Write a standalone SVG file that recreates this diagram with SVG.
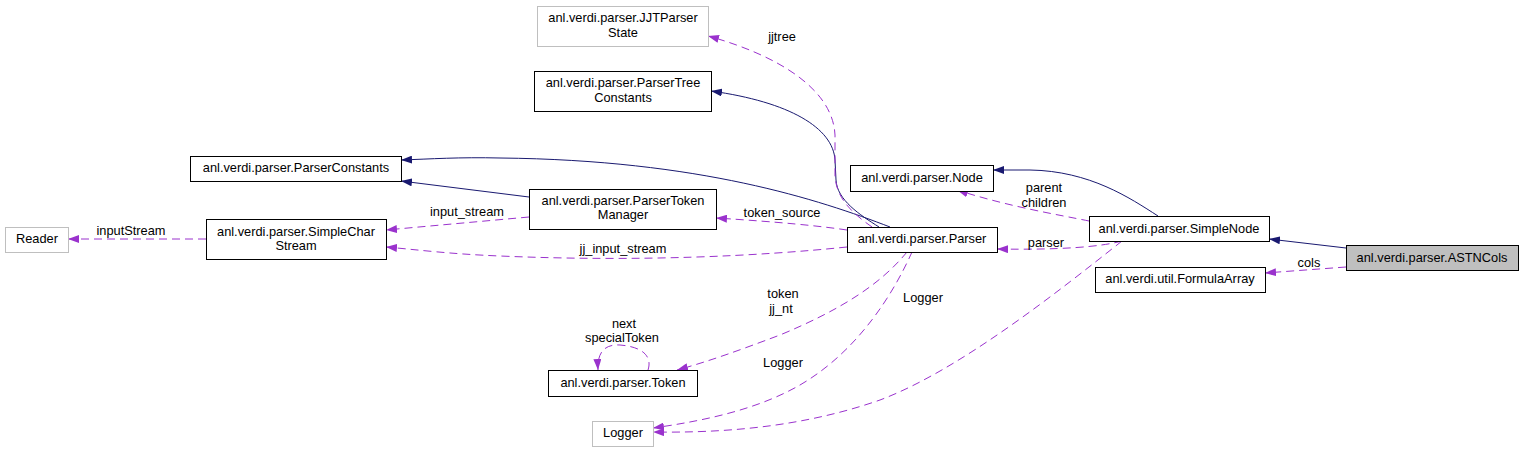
<svg xmlns="http://www.w3.org/2000/svg" width="1529" height="453" viewBox="0 0 1529 453">
<defs>
<style>
text{font-family:"Liberation Sans",Arial,sans-serif;font-size:12.8px;fill:#000;text-anchor:middle}
.n rect{fill:#fff;stroke:#000;stroke-width:1}
.n.g rect{stroke:#bfbfbf}
.n.cur rect{fill:#bfbfbf}
.inh{fill:none;stroke:#191970;stroke-width:1;marker-end:url(#an)}
.use{fill:none;stroke:#9a32cd;stroke-width:1;stroke-dasharray:8,5;marker-end:url(#ap)}
</style>
<marker id="an" viewBox="0 0 11 8" refX="11" refY="4" markerUnits="userSpaceOnUse" markerWidth="11" markerHeight="8" orient="auto"><path d="M0,0 L11,4 L0,8 Z" fill="#191970"/></marker>
<marker id="ap" viewBox="0 0 11 8" refX="11" refY="4" markerUnits="userSpaceOnUse" markerWidth="11" markerHeight="8" orient="auto"><path d="M0,0 L11,4 L0,8 Z" fill="#9a32cd"/></marker>
</defs>
<rect width="1529" height="453" fill="#fff"/>
<g id="edges">
<path class="inh" d="M1346,248 L1269,239"/>
<path class="inh" d="M1158,216 C1130,198 1090,171 1030,170 L993,170"/>
<path class="inh" d="M879,227 C860,215 837,200 836,180 L835,160 C833,128 790,102 711,91"/>
<path class="inh" d="M890,227 C820,200 700,160 500,158 C460,157 430,159 401,160"/>
<path class="inh" d="M529,197 L401,181"/>
<path class="use" d="M1346,267 L1265,273"/>
<path class="use" d="M1089,221 C1060,215 1010,207 957,190"/>
<path class="use" d="M1122,241 C1100,247 1060,250 997,249"/>
<path class="use" d="M1122,241 C1060,290 960,370 880,400 C800,428 720,433 653,432"/>
<path class="use" d="M872,227 C855,215 836,200 835,175 L835,135 C833,90 780,56 708,36"/>
<path class="use" d="M847,230 C820,226 780,222 716,218"/>
<path class="use" d="M847,247 C760,256 640,262 500,256 C450,254 420,250 386,247"/>
<path class="use" d="M529,217 L386,230"/>
<path class="use" d="M206,239 L68,239"/>
<path class="use" d="M907,252 C880,285 840,310 780,335 C740,350 710,361 677,370"/>
<path class="use" d="M912,252 C895,290 860,350 800,385 C760,408 710,420 653,428"/>
<path class="use" d="M648,370 C652,358 645,347 620,345 C605,344 597,352 598,370"/>
<text x="782" y="40.5">jjtree</text>
<text x="782" y="216.5">token_source</text>
<text x="623" y="252.5">jj_input_stream</text>
<text x="467" y="215.5">input_stream</text>
<text x="131" y="235">inputStream</text>
<text x="1044" y="191.5">parent</text>
<text x="1044" y="206.5">children</text>
<text x="1046" y="246.5">parser</text>
<text x="1309" y="266.5">cols</text>
<text x="783" y="297.5">token</text>
<text x="781" y="312.5">jj_nt</text>
<text x="624" y="327.5">next</text>
<text x="622" y="341.5">specialToken</text>
<text x="923" y="301.5">Logger</text>
<text x="783" y="366.5">Logger</text>
</g>
<g id="JJTParserState" class="n g"><rect x="537.5" y="6.5" width="171" height="40"/><text x="623" y="21.5">anl.verdi.parser.JJTParser</text><text x="623" y="36.5">State</text></g>
<g id="ParserTreeConstants" class="n"><rect x="534.5" y="71.5" width="177" height="40"/><text x="623" y="86.5">anl.verdi.parser.ParserTree</text><text x="623" y="101.5">Constants</text></g>
<g id="ParserConstants" class="n"><rect x="190.5" y="156.5" width="211" height="25"/><text x="296" y="172">anl.verdi.parser.ParserConstants</text></g>
<g id="ParserTokenManager" class="n"><rect x="529.5" y="189.5" width="187" height="40"/><text x="623" y="204.5">anl.verdi.parser.ParserToken</text><text x="623" y="219">Manager</text></g>
<g id="SimpleCharStream" class="n"><rect x="206.5" y="219.5" width="180" height="40"/><text x="296" y="236">anl.verdi.parser.SimpleChar</text><text x="296" y="250">Stream</text></g>
<g id="Reader" class="n g"><rect x="5.5" y="227.5" width="63" height="25"/><text x="37" y="243">Reader</text></g>
<g id="Node" class="n"><rect x="850.5" y="165.5" width="143" height="26"/><text x="922" y="182">anl.verdi.parser.Node</text></g>
<g id="Parser" class="n"><rect x="847.5" y="227.5" width="150" height="25"/><text x="922" y="243">anl.verdi.parser.Parser</text></g>
<g id="SimpleNode" class="n"><rect x="1089.5" y="216.5" width="180" height="25"/><text x="1179" y="232.5">anl.verdi.parser.SimpleNode</text></g>
<g id="FormulaArray" class="n"><rect x="1095.5" y="267.5" width="170" height="25"/><text x="1180" y="283">anl.verdi.util.FormulaArray</text></g>
<g id="ASTNCols" class="n cur"><rect x="1346.5" y="245.5" width="172" height="25"/><text x="1432" y="261.5">anl.verdi.parser.ASTNCols</text></g>
<g id="Token" class="n"><rect x="548.5" y="370.5" width="149" height="26"/><text x="623" y="387">anl.verdi.parser.Token</text></g>
<g id="Logger" class="n g"><rect x="592.5" y="421.5" width="61" height="25"/><text x="623" y="437">Logger</text></g>
</svg>
